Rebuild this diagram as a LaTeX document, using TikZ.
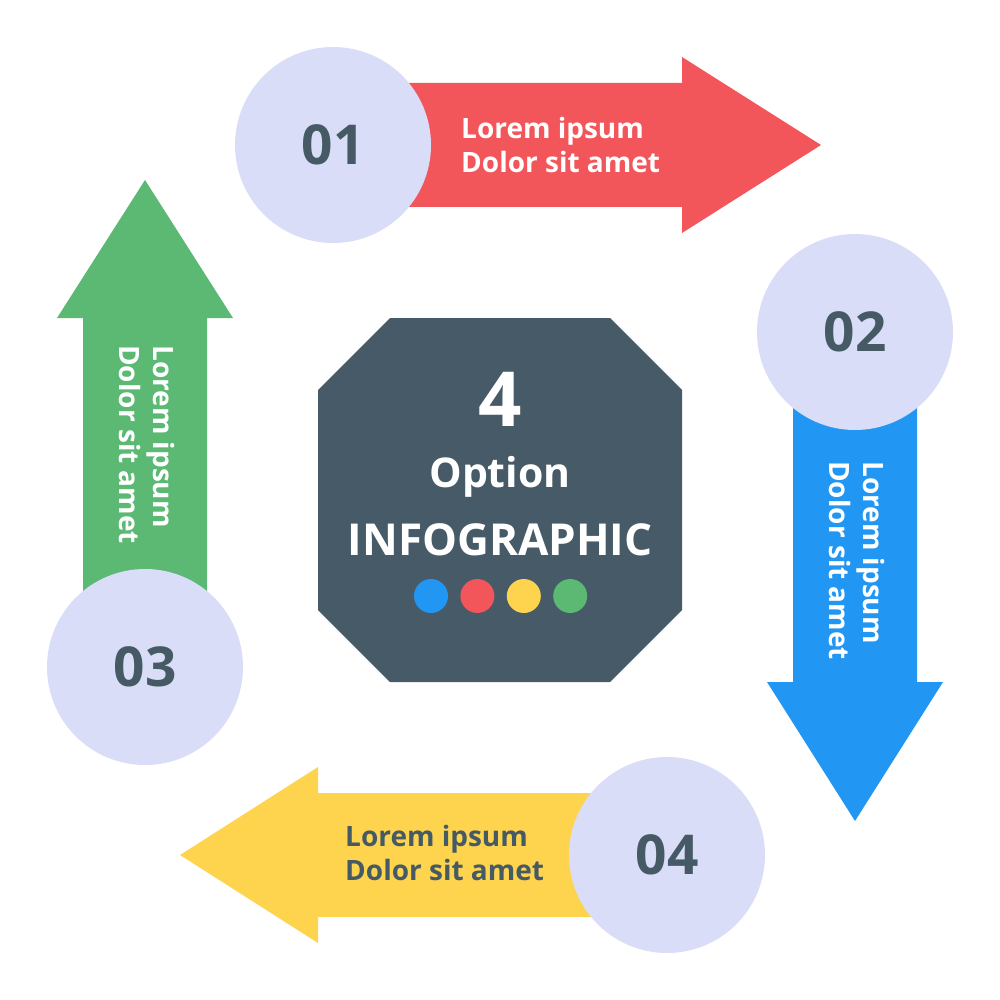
\documentclass[tikz,border=0pt]{standalone}
\usepackage{fontspec}
\setmainfont{Open Sans}
\usepackage{tikz}
\usetikzlibrary{positioning}
\definecolor{redarrow}{HTML}{F2555A}
\definecolor{bluearrow}{HTML}{2196F3}
\definecolor{yellowarrow}{HTML}{FED44E}
\definecolor{greenarrow}{HTML}{5BB974}
\definecolor{slate}{HTML}{465A67}
\definecolor{lavender}{HTML}{D9DDF8}
\definecolor{numtext}{HTML}{455A64}

\begin{document}
\begin{tikzpicture}[
  x=1pt,y=-1pt,
  num/.style={circle,fill=lavender,minimum size=196pt,inner sep=0pt,text=numtext,font=\bfseries\fontsize{55}{60}\selectfont},
  lbl/.style={align=left,inner sep=0pt,anchor=west,font=\bfseries\fontsize{28}{34}\selectfont},
  hubtext/.style={text=white,inner sep=0pt,anchor=base},
  dot/.style={circle,minimum size=34pt,inner sep=0pt},
]
\useasboundingbox (0,0) rectangle (1000,1000);

% arrows
\fill[redarrow] (333,83) -- (682,83) -- (682,57) -- (821,145) -- (682,233) -- (682,207) -- (333,207) -- cycle;
\fill[bluearrow] (793,332) -- (793,682) -- (767,682) -- (855,821) -- (943,682) -- (917,682) -- (917,332) -- cycle;
\fill[yellowarrow] (667,793) -- (318,793) -- (318,767) -- (180,855) -- (318,943) -- (318,917) -- (667,917) -- cycle;
\fill[greenarrow] (83,667) -- (83,318) -- (57,318) -- (145,180) -- (233,318) -- (207,318) -- (207,667) -- cycle;

\node[num] (n1) at (333,145) {01};
\node[num] (n2) at (855,332) {02};
\node[num] (n3) at (145,667) {03};
\node[num] (n4) at (667,855) {04};

\node[lbl,text=white] (t1) at (461,145) {Lorem ipsum\\Dolor sit amet};
\node[lbl,text=white,rotate=-90] (t2) at (857,461) {Lorem ipsum\\Dolor sit amet};
\node[lbl,text=white,rotate=-90] (t3) at (147,345) {Lorem ipsum\\Dolor sit amet};
\node[lbl,text=numtext] (t4) at (345,853) {Lorem ipsum\\Dolor sit amet};

% centre block
\fill[slate] (390,318) -- (610,318) -- (682,390) -- (682,610) -- (610,682) -- (390,682) -- (318,610) -- (318,390) -- cycle;
\node[hubtext,font=\bfseries\fontsize{76}{80}\selectfont] (four) at (500,426) {4};
\node[hubtext,font=\bfseries\fontsize{41}{46}\selectfont] (option) at (500,487) {Option};
\node[hubtext,font=\bfseries\fontsize{44}{48}\selectfont] (infog) at (500,555) {INFOGRAPHIC};

\node[dot,fill=bluearrow] (d1) at (431,596) {};
\node[dot,fill=redarrow,right=12pt of d1] (d2) {};
\node[dot,fill=yellowarrow,right=12pt of d2] (d3) {};
\node[dot,fill=greenarrow,right=12pt of d3] (d4) {};
\end{tikzpicture}
\end{document}
